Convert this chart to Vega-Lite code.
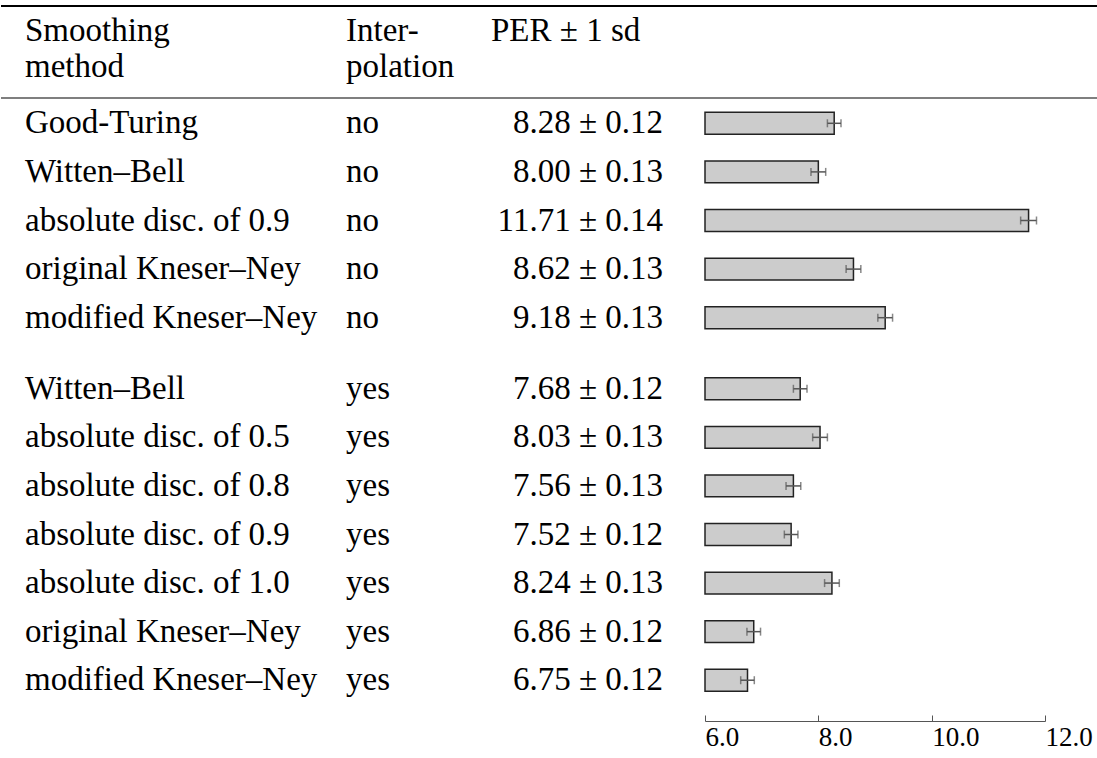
{
  "$schema": "https://vega.github.io/schema/vega-lite/v6.json",
  "padding": 0,
  "background": "white",
  "config": {
    "view": {"stroke": null},
    "font": "Liberation Serif",
    "text": {"font": "Liberation Serif", "fontSize": 33, "color": "#000000"}
  },
  "datasets": {
    "rows": [
      {"interp": "no", "method": "Good-Turing", "per": 8.28, "sd": 0.12, "label": "8.28 ± 0.12"},
      {"interp": "no", "method": "Witten–Bell", "per": 8.00, "sd": 0.13, "label": "8.00 ± 0.13"},
      {"interp": "no", "method": "absolute disc. of 0.9", "per": 11.71, "sd": 0.14, "label": "11.71 ± 0.14"},
      {"interp": "no", "method": "original Kneser–Ney", "per": 8.62, "sd": 0.13, "label": "8.62 ± 0.13"},
      {"interp": "no", "method": "modified Kneser–Ney", "per": 9.18, "sd": 0.13, "label": "9.18 ± 0.13"},
      {"interp": "yes", "method": "Witten–Bell", "per": 7.68, "sd": 0.12, "label": "7.68 ± 0.12"},
      {"interp": "yes", "method": "absolute disc. of 0.5", "per": 8.03, "sd": 0.13, "label": "8.03 ± 0.13"},
      {"interp": "yes", "method": "absolute disc. of 0.8", "per": 7.56, "sd": 0.13, "label": "7.56 ± 0.13"},
      {"interp": "yes", "method": "absolute disc. of 0.9", "per": 7.52, "sd": 0.12, "label": "7.52 ± 0.12"},
      {"interp": "yes", "method": "absolute disc. of 1.0", "per": 8.24, "sd": 0.13, "label": "8.24 ± 0.13"},
      {"interp": "yes", "method": "original Kneser–Ney", "per": 6.86, "sd": 0.12, "label": "6.86 ± 0.12"},
      {"interp": "yes", "method": "modified Kneser–Ney", "per": 6.75, "sd": 0.12, "label": "6.75 ± 0.12"}
    ],
    "header": [
      {"col": "A", "line": 1, "text": "Smoothing"},
      {"col": "A", "line": 2, "text": "method"},
      {"col": "B", "line": 1, "text": "Inter-"},
      {"col": "B", "line": 2, "text": "polation"},
      {"col": "C", "line": 1, "text": "PER ± 1 sd"}
    ]
  },
  "spacing": 0,
  "vconcat": [
    {
      "spacing": 0,
      "bounds": "flush",
      "hconcat": [
        {
          "width": 345, "height": 98,
          "layer": [
            {"data": {"values": [{}]}, "mark": {"type": "rule", "color": "#000000", "strokeWidth": 2}, "encoding": {"y": {"value": 6}}},
            {"data": {"values": [{}]}, "mark": {"type": "rule", "color": "#000000", "strokeWidth": 1.2}, "encoding": {"y": {"value": "height"}}},
            {
              "data": {"name": "header"},
              "transform": [{"filter": {"field": "col", "equal": "A"}}],
              "mark": {"type": "text", "align": "left", "baseline": "middle", "x": 0, "dx": 24, "font": "Liberation Serif", "fontSize": 33},
              "encoding": {
                "y": {"field": "line", "type": "ordinal", "scale": {"type": "point", "domain": [1, 2], "padding": 0.86}, "axis": null},
                "text": {"field": "text"}
              }
            }
          ]
        },
        {
          "width": 125, "height": 98,
          "layer": [
            {"data": {"values": [{}]}, "mark": {"type": "rule", "color": "#000000", "strokeWidth": 2}, "encoding": {"y": {"value": 6}}},
            {"data": {"values": [{}]}, "mark": {"type": "rule", "color": "#000000", "strokeWidth": 1.2}, "encoding": {"y": {"value": "height"}}},
            {
              "data": {"name": "header"},
              "transform": [{"filter": {"field": "col", "equal": "B"}}],
              "mark": {"type": "text", "align": "left", "baseline": "middle", "x": 0, "font": "Liberation Serif", "fontSize": 33},
              "encoding": {
                "y": {"field": "line", "type": "ordinal", "scale": {"type": "point", "domain": [1, 2], "padding": 0.86}, "axis": null},
                "text": {"field": "text"}
              }
            }
          ]
        },
        {
          "width": 234, "height": 98,
          "layer": [
            {"data": {"values": [{}]}, "mark": {"type": "rule", "color": "#000000", "strokeWidth": 2}, "encoding": {"y": {"value": 6}}},
            {"data": {"values": [{}]}, "mark": {"type": "rule", "color": "#000000", "strokeWidth": 1.2}, "encoding": {"y": {"value": "height"}}},
            {
              "data": {"name": "header"},
              "transform": [{"filter": {"field": "col", "equal": "C"}}],
              "mark": {"type": "text", "align": "left", "baseline": "middle", "x": 0, "dx": 20, "font": "Liberation Serif", "fontSize": 33},
              "encoding": {
                "y": {"field": "line", "type": "ordinal", "scale": {"type": "point", "domain": [1, 2], "padding": 0.86}, "axis": null},
                "text": {"field": "text"}
              }
            }
          ]
        },
        {
          "width": 393, "height": 98,
          "layer": [
            {"data": {"values": [{}]}, "mark": {"type": "rule", "color": "#000000", "strokeWidth": 2}, "encoding": {"y": {"value": 6}}},
            {"data": {"values": [{}]}, "mark": {"type": "rule", "color": "#000000", "strokeWidth": 1.2}, "encoding": {"y": {"value": "height"}}}
          ]
        }
      ]
    },
    {
      "spacing": 22.5,
      "vconcat": [
        {
          "spacing": 0,
          "bounds": "flush",
          "hconcat": [
            {
              "width": 345, "height": 243,
              "data": {"name": "rows"},
              "transform": [{"filter": {"field": "interp", "equal": "no"}}],
              "mark": {"type": "text", "align": "left", "baseline": "middle", "x": 0, "dx": 24, "font": "Liberation Serif", "fontSize": 33},
              "encoding": {
                "y": {"field": "method", "type": "nominal", "sort": null, "scale": {"paddingInner": 0.55, "paddingOuter": 0.275}, "axis": null},
                "text": {"field": "method"}
              }
            },
            {
              "width": 125, "height": 243,
              "data": {"name": "rows"},
              "transform": [{"filter": {"field": "interp", "equal": "no"}}],
              "mark": {"type": "text", "align": "left", "baseline": "middle", "x": 0, "font": "Liberation Serif", "fontSize": 33},
              "encoding": {
                "y": {"field": "method", "type": "nominal", "sort": null, "scale": {"paddingInner": 0.55, "paddingOuter": 0.275}, "axis": null},
                "text": {"field": "interp"}
              }
            },
            {
              "width": 234, "height": 243,
              "data": {"name": "rows"},
              "transform": [{"filter": {"field": "interp", "equal": "no"}}],
              "mark": {"type": "text", "align": "right", "baseline": "middle", "x": "width", "dx": -42, "font": "Liberation Serif", "fontSize": 33},
              "encoding": {
                "y": {"field": "method", "type": "nominal", "sort": null, "scale": {"paddingInner": 0.55, "paddingOuter": 0.275}, "axis": null},
                "text": {"field": "label"}
              }
            },
            {
              "width": 393, "height": 243,
              "data": {"name": "rows"},
              "transform": [{"filter": {"field": "interp", "equal": "no"}}],
              "encoding": {
                "y": {"field": "method", "type": "nominal", "sort": null, "scale": {"paddingInner": 0.55, "paddingOuter": 0.275}, "axis": null}
              },
              "layer": [
                {
                  "mark": {"type": "bar", "fill": "#cccccc", "stroke": "#222222", "strokeWidth": 1.5},
                  "encoding": {
                    "x": {"field": "per", "type": "quantitative", "scale": {"domain": [6, 12], "range": [0, 340], "zero": false, "nice": false}, "axis": null},
                    "x2": {"datum": 6}
                  }
                },
                {
                  "mark": {"type": "errorbar", "ticks": true, "color": "#555555", "thickness": 1.5, "size": 8},
                  "encoding": {
                    "x": {"field": "per", "type": "quantitative", "scale": {"domain": [6, 12], "range": [0, 340], "zero": false, "nice": false}, "axis": null},
                    "xError": {"field": "sd"}
                  }
                }
              ]
            }
          ]
        },
        {
          "spacing": 0,
          "bounds": "flush",
          "hconcat": [
            {
              "width": 345, "height": 340,
              "data": {"name": "rows"},
              "transform": [{"filter": {"field": "interp", "equal": "yes"}}],
              "mark": {"type": "text", "align": "left", "baseline": "middle", "x": 0, "dx": 24, "font": "Liberation Serif", "fontSize": 33},
              "encoding": {
                "y": {"field": "method", "type": "nominal", "sort": null, "scale": {"paddingInner": 0.55, "paddingOuter": 0.275}, "axis": null},
                "text": {"field": "method"}
              }
            },
            {
              "width": 125, "height": 340,
              "data": {"name": "rows"},
              "transform": [{"filter": {"field": "interp", "equal": "yes"}}],
              "mark": {"type": "text", "align": "left", "baseline": "middle", "x": 0, "font": "Liberation Serif", "fontSize": 33},
              "encoding": {
                "y": {"field": "method", "type": "nominal", "sort": null, "scale": {"paddingInner": 0.55, "paddingOuter": 0.275}, "axis": null},
                "text": {"field": "interp"}
              }
            },
            {
              "width": 234, "height": 340,
              "data": {"name": "rows"},
              "transform": [{"filter": {"field": "interp", "equal": "yes"}}],
              "mark": {"type": "text", "align": "right", "baseline": "middle", "x": "width", "dx": -42, "font": "Liberation Serif", "fontSize": 33},
              "encoding": {
                "y": {"field": "method", "type": "nominal", "sort": null, "scale": {"paddingInner": 0.55, "paddingOuter": 0.275}, "axis": null},
                "text": {"field": "label"}
              }
            },
            {
              "width": 393, "height": 340,
              "data": {"name": "rows"},
              "transform": [{"filter": {"field": "interp", "equal": "yes"}}],
              "encoding": {
                "y": {"field": "method", "type": "nominal", "sort": null, "scale": {"paddingInner": 0.55, "paddingOuter": 0.275}, "axis": null}
              },
              "layer": [
                {
                  "mark": {"type": "bar", "fill": "#cccccc", "stroke": "#222222", "strokeWidth": 1.5},
                  "encoding": {
                    "x": {
                      "field": "per", "type": "quantitative",
                      "scale": {"domain": [6, 12], "range": [0, 340], "zero": false, "nice": false},
                      "axis": {
                        "values": [6, 8, 10, 12], "format": ".1f", "orient": "bottom", "offset": 16.5,
                        "title": null, "grid": false, "labelAlign": "left", "labelBaseline": "top",
                        "labelFont": "Liberation Serif", "labelFontSize": 27, "labelColor": "#000000",
                        "domainColor": "#555555", "domainWidth": 1, "tickColor": "#555555", "tickWidth": 1,
                        "tickSize": -6, "labelPadding": 9, "labelFlush": false, "labelOverlap": false, "labelBound": false
                      }
                    },
                    "x2": {"datum": 6}
                  }
                },
                {
                  "mark": {"type": "errorbar", "ticks": true, "color": "#555555", "thickness": 1.5, "size": 8},
                  "encoding": {
                    "x": {"field": "per", "type": "quantitative", "scale": {"domain": [6, 12], "range": [0, 340], "zero": false, "nice": false}},
                    "xError": {"field": "sd"}
                  }
                }
              ]
            }
          ]
        }
      ]
    }
  ]
}
